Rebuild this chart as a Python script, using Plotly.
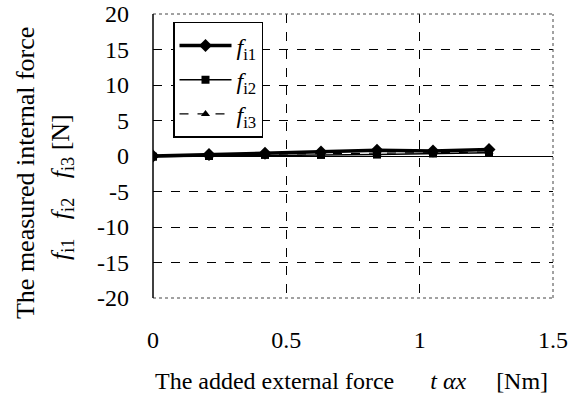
import plotly.graph_objects as go

x_vals = [0, 0.21, 0.42, 0.63, 0.84, 1.05, 1.26]
f_i1 = [0.0, 0.2, 0.4, 0.55, 0.8, 0.7, 0.9]
f_i2 = [-0.1, 0.0, 0.15, 0.15, 0.2, 0.35, 0.45]
f_i3 = [0.0, 0.05, 0.25, 0.3, 0.35, 0.45, 0.55]
x_ticks = [0, 0.5, 1, 1.5]
x_tick_labels = ["0", "0.5", "1", "1.5"]
y_ticks = [-20, -15, -10, -5, 0, 5, 10, 15, 20]
y_tick_labels = ["-20", "-15", "-10", "-5", "0", "5", "10", "15", "20"]

FONT = "Times New Roman, Liberation Serif, serif"
NB = "\u00a0"

fig = go.Figure()
fig.add_trace(go.Scatter(x=x_vals, y=f_i1, mode="lines+markers",
                         name="<i>f</i><sub>i1</sub>", legendgroup="a",
                         line=dict(color="black", width=3.5),
                         marker=dict(symbol="diamond", size=10, color="black")))
fig.add_trace(go.Scatter(x=x_vals, y=f_i2, mode="lines+markers",
                         name="<i>f</i><sub>i2</sub>", legendgroup="b",
                         line=dict(color="black", width=1.5),
                         marker=dict(symbol="square", size=8, color="black")))
fig.add_trace(go.Scatter(x=x_vals, y=f_i3, mode="lines+markers",
                         name="<i>f</i><sub>i3</sub>", legendgroup="c",
                         line=dict(color="black", width=1.2, dash="dash"),
                         marker=dict(symbol="triangle-up", size=8, color="black")))

fig.update_layout(
    width=582, height=394,
    margin=dict(l=153, r=29, t=14, b=96, autoexpand=False),
    paper_bgcolor="white", plot_bgcolor="white",
    font=dict(family=FONT, color="black", size=20),
    showlegend=True,
    legend=dict(x=0.05, y=0.972, xanchor="left", yanchor="top",
                bordercolor="black", borderwidth=1.5, bgcolor="white",
                font=dict(family=FONT, size=24, color="black"),
                itemwidth=52, tracegroupgap=0),
)
fig.update_xaxes(range=[0, 1.5], tickvals=x_ticks, ticktext=x_tick_labels,
                 showgrid=True, gridcolor="black", griddash="dash", gridwidth=1,
                 zeroline=False, showline=False,
                 ticks="", ticklabelstandoff=25, automargin=False,
                 tickfont=dict(family=FONT, size=24, color="black"))
fig.update_yaxes(range=[-20, 20], tickvals=y_ticks, ticktext=y_tick_labels,
                 showgrid=True, gridcolor="black", griddash="dash", gridwidth=1,
                 zeroline=True, zerolinecolor="black", zerolinewidth=1,
                 showline=False,
                 ticks="", ticklabelstandoff=23, automargin=False,
                 ticklabeloverflow="allow",
                 tickfont=dict(family=FONT, size=24, color="black"))
# plot frame: dotted top/right/bottom, solid left axis
for (x0, y0, x1, y1) in [(0, 1, 1, 1), (1, 0, 1, 1), (0, 0, 1, 0)]:
    fig.add_shape(type="line", xref="paper", yref="paper", x0=x0, x1=x1, y0=y0, y1=y1,
                  line=dict(color="#444", width=1, dash="dot"))
fig.add_shape(type="line", xref="paper", yref="paper", x0=0, x1=0, y0=0, y1=1,
              line=dict(color="black", width=1.5))

fig.add_annotation(xref="paper", yref="paper", x=0.0, y=-0.293,
                   xanchor="left", yanchor="middle", showarrow=False,
                   text="The added external force" + NB * 6 + "<i>t</i> <i>αx</i>" + NB * 5 + "[Nm]",
                   font=dict(family=FONT, size=24, color="black"))
fig.add_annotation(xref="paper", yref="paper", x=-0.32, y=0.44,
                   xanchor="center", yanchor="middle", showarrow=False, textangle=-90,
                   text="The measured internal force",
                   font=dict(family=FONT, size=26, color="black"))
fig.add_annotation(xref="paper", yref="paper", x=-0.228, y=0.39,
                   xanchor="center", yanchor="middle", showarrow=False, textangle=-90,
                   text="<i>f</i><sub>i1</sub>" + NB * 3 + "<i>f</i><sub>i2</sub>" + NB * 3
                        + "<i>f</i><sub>i3</sub>" + NB + "[N]",
                   font=dict(family=FONT, size=26, color="black"))

fig.write_html("out.html", post_script="document.body.style.margin='0px';",
               config={"displayModeBar": False})
